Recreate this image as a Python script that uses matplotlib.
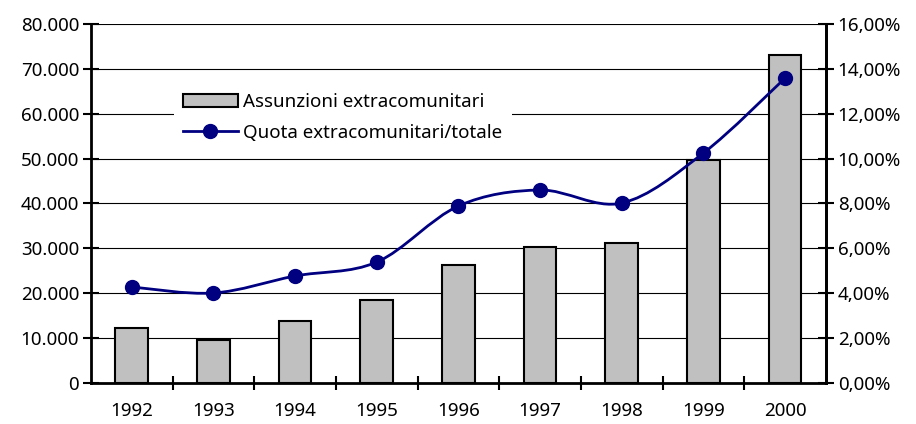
import matplotlib
matplotlib.use("Agg")
import matplotlib.pyplot as plt
from matplotlib.path import Path
from matplotlib.patches import PathPatch, Patch
from matplotlib.lines import Line2D
import numpy as np

years = ["1992", "1993", "1994", "1995", "1996", "1997", "1998", "1999", "2000"]
assunzioni = [12200, 9600, 13800, 18500, 26300, 30300, 31200, 49700, 73100]
quota = [4.28, 4.01, 4.77, 5.39, 7.89, 8.60, 8.02, 10.25, 13.59]
left_ticks = [0, 10000, 20000, 30000, 40000, 50000, 60000, 70000, 80000]
left_labels = ["0", "10.000", "20.000", "30.000", "40.000", "50.000", "60.000", "70.000", "80.000"]
right_ticks = [0, 2, 4, 6, 8, 10, 12, 14, 16]
right_labels = ["0,00%", "2,00%", "4,00%", "6,00%", "8,00%", "10,00%", "12,00%", "14,00%", "16,00%"]

plt.rcParams['font.family'] = ['Noto Sans', 'DejaVu Sans']
fs = 13.5

fig = plt.figure(figsize=(9.16, 4.24), dpi=100)
ax = fig.add_axes([0.0993, 0.0967, 0.9017 - 0.0993, 0.9434 - 0.0967])
x = np.arange(len(years))
ax.set_xlim(-0.5, len(years) - 0.5)
ax.set_ylim(0, 80000)
for t in left_ticks[1:]:
    ax.axhline(t, color='black', lw=0.8, zorder=0)
ax.bar(x, assunzioni, width=0.4, color='#C0C0C0', edgecolor='black', linewidth=1.5, zorder=2)

ax.set_yticks(left_ticks)
ax.set_yticklabels(left_labels, fontsize=fs)
ax.tick_params(axis='y', direction='inout', length=11, width=1.5, pad=3)
ax.set_xticks(x)
ax.set_xticklabels(years, fontsize=fs)
ax.tick_params(axis='x', which='major', length=0, pad=14)
ax.set_xticks(np.arange(0.5, len(years) - 0.5), minor=True)
ax.tick_params(axis='x', which='minor', direction='inout', length=10, width=1.5)
for s in ['left', 'right', 'bottom']:
    ax.spines[s].set_linewidth(2)
ax.spines['top'].set_visible(False)

ax2 = ax.twinx()
ax2.set_ylim(0, 16)
ax2.set_yticks(right_ticks)
ax2.set_yticklabels(right_labels, fontsize=fs)
ax2.tick_params(axis='y', direction='inout', length=11, width=1.5, pad=3)
for s in ['left', 'right', 'bottom', 'top']:
    ax2.spines[s].set_visible(s == 'right')
ax2.spines['right'].set_linewidth(2)

# smoothed line (Catmull-Rom style Bezier through the data points)
px = np.array(x, dtype=float)
py = np.array(quota, dtype=float)
verts = [(px[0], py[0])]
codes = [Path.MOVETO]
tension = 1 / 6
n = len(px)
for i in range(n - 1):
    p0 = (px[max(i - 1, 0)], py[max(i - 1, 0)])
    p1 = (px[i], py[i])
    p2 = (px[i + 1], py[i + 1])
    p3 = (px[min(i + 2, n - 1)], py[min(i + 2, n - 1)])
    c1 = (p1[0] + (p2[0] - p0[0]) * tension, p1[1] + (p2[1] - p0[1]) * tension)
    c2 = (p2[0] - (p3[0] - p1[0]) * tension, p2[1] - (p3[1] - p1[1]) * tension)
    verts += [c1, c2, p2]
    codes += [Path.CURVE4] * 3
ax2.add_patch(PathPatch(Path(verts, codes), facecolor='none', edgecolor='#000080', lw=2, zorder=3))
ax2.plot(px, py, linestyle='none', marker='o', markersize=10, color='#000080', zorder=4)

handles = [Patch(facecolor='#C0C0C0', edgecolor='black', linewidth=1.5),
           Line2D([0], [0], color='#000080', lw=2, marker='o', markersize=10)]
leg = ax2.legend(handles, ["Assunzioni extracomunitari", "Quota extracomunitari/totale"],
                 loc='upper left', bbox_to_anchor=(0.1, 0.861), fontsize=fs,
                 frameon=True, fancybox=False, framealpha=1, edgecolor='none',
                 facecolor='white', handlelength=2.9, handletextpad=0.3,
                 labelspacing=0.7, borderpad=0.5)

fig.savefig("out.png", dpi=100)
